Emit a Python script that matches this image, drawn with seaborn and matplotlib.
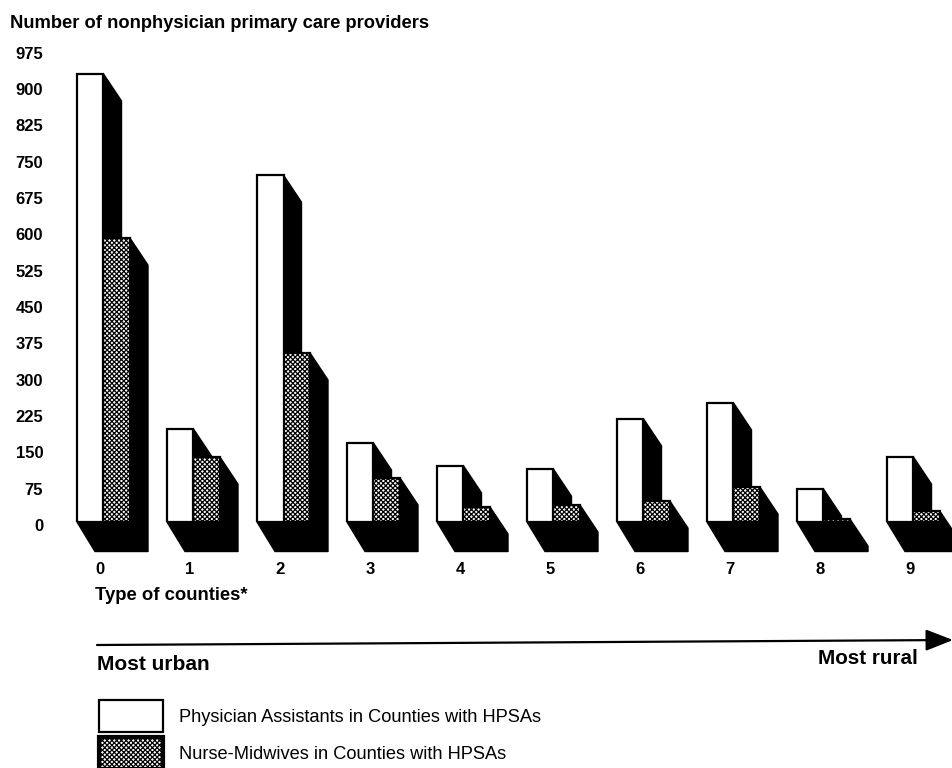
import numpy as np
import pandas as pd
import matplotlib
matplotlib.use("Agg")
import matplotlib.pyplot as plt
from matplotlib.patches import Patch, Polygon
from matplotlib.transforms import ScaledTranslation
import seaborn as sns

county_types = ["0", "1", "2", "3", "4", "5", "6", "7", "8", "9"]
physician_assistants = [925, 192, 716, 163, 116, 109, 213, 246, 68, 134]
nurse_midwives = [586, 134, 349, 91, 31, 35, 43, 72, 6, 22]
y_ticks = list(range(0, 976, 75))
series_pa = "Physician Assistants in Counties with HPSAs"
series_nm = "Nurse-Midwives in Counties with HPSAs"

sns.set_theme(style="white")
plt.rcParams["font.family"] = ["Liberation Sans", "DejaVu Sans"]
plt.rcParams["hatch.linewidth"] = 0.9

W, H = 953, 768
fig = plt.figure(figsize=(W / 100, H / 100), dpi=100)
PX_UNIT = 0.4844
top_px = 522 - 975 * PX_UNIT
left_px = 103.5 - 0.5 * 90
right_px = 103.5 + 9.3 * 90
ax = fig.add_axes([left_px / W, 1 - 522 / H, (right_px - left_px) / W, (522 - top_px) / H])

df = pd.DataFrame({
    "type": county_types * 2,
    "value": physician_assistants + nurse_midwives,
    "series": [series_pa] * 10 + [series_nm] * 10,
})
sns.barplot(data=df, x="type", y="value", hue="series", order=county_types,
            hue_order=[series_pa, series_nm], width=53 / 90, legend=False,
            palette=["white", "white"], edgecolor="black", linewidth=1.6,
            saturation=1, ax=ax)

bars = [p for p in ax.patches]
pa_bars, nm_bars = bars[:10], bars[10:20]
DX = 18 / 90
DY_SIDE = 27 / PX_UNIT
DY_FLOOR = 29.5 / PX_UNIT


def side(bar):
    r = bar.get_x() + bar.get_width()
    t = bar.get_height()
    return Polygon([(r, t), (r + DX, max(t - DY_SIDE, -DY_FLOOR)), (r + DX, -DY_FLOOR), (r, 0)],
                   closed=True, fc="black", ec="black", lw=1, zorder=1, clip_on=False)


for pa, nm in zip(pa_bars, nm_bars):
    l = pa.get_x()
    r = nm.get_x() + nm.get_width()
    ax.add_patch(Polygon([(l, 0), (r, 0), (r + DX, -DY_FLOOR), (l + DX, -DY_FLOOR)],
                         closed=True, fc="black", ec="black", lw=1, zorder=1, clip_on=False))
    ax.add_patch(side(pa))
    ax.add_patch(side(nm))
    pa.set_zorder(3)
    nm.set_zorder(2)
    nm.set_hatch("xxxxxxx")

ax.set_xlim(-0.5, 9.3)
ax.set_ylim(0, 975)
ax.set_yticks(y_ticks)
ax.set_yticklabels([str(v) for v in y_ticks], fontsize=12, fontweight="bold", color="black")
ax.set_xticklabels(county_types, fontsize=12, fontweight="bold", color="black")
ax.tick_params(axis="both", length=0)
ax.tick_params(axis="y", pad=11)
ax.tick_params(axis="x", pad=29)
ax.set_xlabel("")
ax.set_ylabel("")
sns.despine(ax=ax, left=True, bottom=True)
ax.patch.set_alpha(0)
for lab in ax.get_yticklabels():
    lab.set_transform(lab.get_transform() + ScaledTranslation(0, -3 / 100, fig.dpi_scale_trans))
for lab in ax.get_xticklabels():
    lab.set_transform(lab.get_transform() + ScaledTranslation(-3.5 / 100, 0, fig.dpi_scale_trans))


def ftext(x, y, s, **kw):
    fig.text(x / W, 1 - y / H, s, va="center", color="black", **kw)


ftext(10, 24, "Number of nonphysician primary care providers", fontsize=13.2, fontweight="bold")
ftext(95, 595, "Type of counties*", fontsize=13.3, fontweight="bold")
ftext(97, 664, "Most urban", fontsize=15, fontweight="bold")
ftext(818, 659, "Most rural", fontsize=14.9, fontweight="bold")

ax.annotate("", xy=(953 / W, 1 - 640 / H), xytext=(97 / W, 1 - 645 / H),
            xycoords="figure fraction", textcoords="figure fraction",
            arrowprops=dict(arrowstyle="-|>,head_length=1.4,head_width=0.55", lw=1.6,
                            color="black", shrinkA=0, shrinkB=0))

handles = [Patch(fc="white", ec="black", lw=1.6, label=series_pa),
           Patch(fc="white", ec="black", lw=3, hatch="xxxxxxx", label=series_nm)]
fs = 13.15
px = fs * 100 / 72
fig.legend(handles=handles, loc="upper left", bbox_to_anchor=(99 / W, 1 - 700 / H),
           frameon=False, fontsize=fs, handlelength=64 / px, handleheight=2.31,
           labelspacing=5 / px, handletextpad=16 / px, borderpad=0, borderaxespad=0,
           labelcolor="black")

fig.savefig("out.png", dpi=100)
